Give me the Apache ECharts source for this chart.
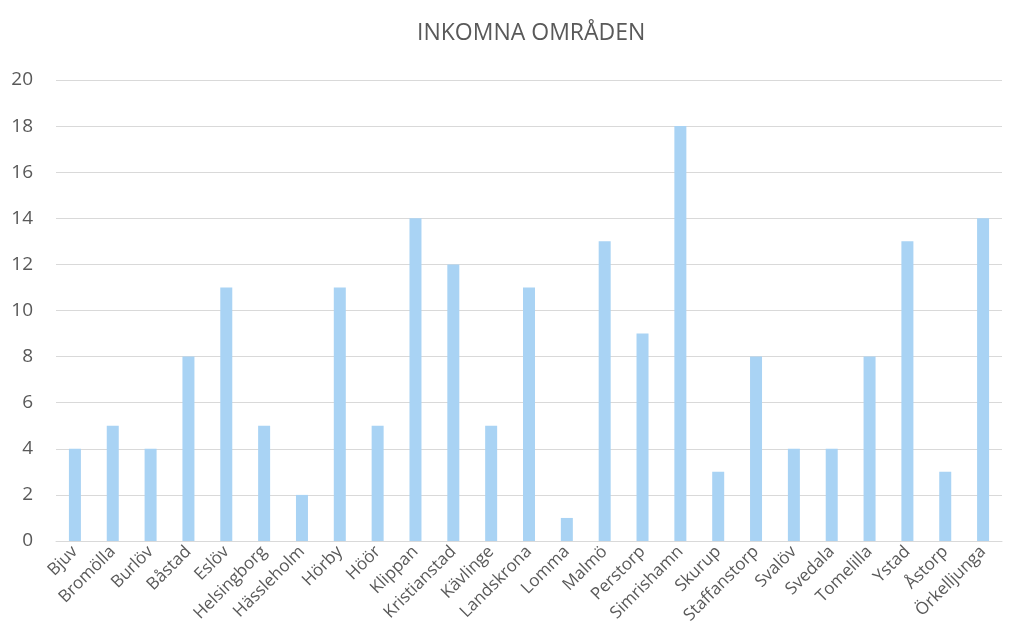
<!DOCTYPE html>
<html>
<head>
<meta charset="utf-8">
<title>Inkomna områden</title>
<script src="https://cdn.jsdelivr.net/npm/echarts@6/dist/echarts.min.js"></script>
<style>
html,body{margin:0;padding:0;background:#fff}
#chart_main{width:1027px;height:642px}
</style>
</head>
<body>
<div id="chart_main"></div>
<script type="text/javascript">
// kommuner
var categories = ['Bjuv','Bromölla','Burlöv','Båstad','Eslöv','Helsingborg','Hässleholm','Hörby','Höör','Klippan',
	'Kristianstad','Kävlinge','Landskrona','Lomma','Malmö','Perstorp','Simrishamn','Skurup','Staffanstorp','Svalöv',
	'Svedala','Tomelilla','Ystad','Åstorp','Örkelljunga'];
var values = [4,5,4,8,11,5,2,11,5,14,12,5,11,1,13,9,18,3,8,4,4,8,13,3,14];

var myChart = echarts.init(document.getElementById('chart_main'));
var txt = '#595959';
var option = {
	animation: false,
	title: {
		text: 'INKOMNA OMRÅDEN',
		left: 412,
		top: 17,
		textStyle: {color: txt, fontSize: 23, fontWeight: 'normal', fontFamily: 'Open Sans'}
	},
	grid: {left: 56, right: 25, top: 80, bottom: 101, containLabel: false},
	xAxis: {
		type: 'category',
		data: categories,
		axisLine: {lineStyle: {color: '#d9d9d9', width: 1}},
		axisTick: {show: false},
		axisLabel: {color: txt, fontSize: 17, fontFamily: 'Open Sans', rotate: 45, interval: 0, margin: 8}
	},
	yAxis: {
		type: 'value',
		min: 0,
		max: 20,
		interval: 2,
		axisLine: {show: false},
		axisTick: {show: false},
		splitLine: {lineStyle: {color: '#d9d9d9', width: 1}},
		axisLabel: {color: txt, fontSize: 19, fontFamily: 'Open Sans', margin: 23}
	},
	series: [{
		type: 'bar',
		data: values,
		barWidth: 12,
		itemStyle: {color: '#a9d3f4'}
	}]
};
myChart.setOption(option);
</script>
</body>
</html>
